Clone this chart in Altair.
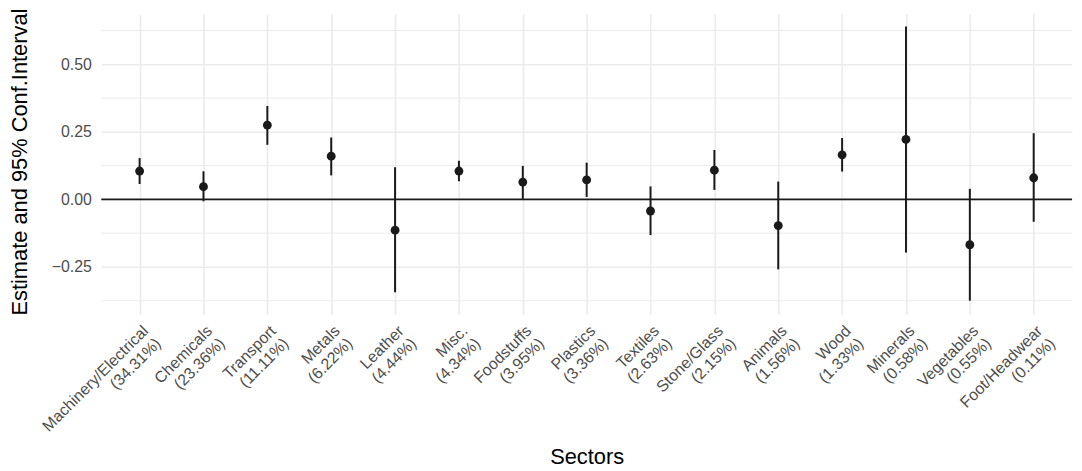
import altair as alt
import pandas as pd

sectors = ["Machinery/Electrical", "Chemicals", "Transport", "Metals", "Leather",
           "Misc.", "Foodstuffs", "Plastics", "Textiles", "Stone/Glass",
           "Animals", "Wood", "Minerals", "Vegetables", "Foot/Headwear"]
shares = ["34.31%", "23.36%", "11.11%", "6.22%", "4.44%", "4.34%", "3.95%",
          "3.36%", "2.63%", "2.15%", "1.56%", "1.33%", "0.58%", "0.55%", "0.11%"]
estimates = [0.105, 0.047, 0.275, 0.160, -0.114, 0.105, 0.064, 0.072, -0.043,
             0.108, -0.097, 0.165, 0.222, -0.168, 0.080]
lower = [0.057, -0.007, 0.202, 0.089, -0.344, 0.067, 0.002, 0.009, -0.132,
         0.035, -0.259, 0.103, -0.197, -0.375, -0.083]
upper = [0.153, 0.104, 0.346, 0.229, 0.119, 0.143, 0.124, 0.136, 0.048,
         0.183, 0.066, 0.227, 0.640, 0.039, 0.245]
major_ticks = [-0.25, 0.0, 0.25, 0.5]
minor_ticks = [-0.375, -0.125, 0.125, 0.375, 0.625]
y_domain = [-0.426, 0.6875]

labels = [f"{s}\n({p})" for s, p in zip(sectors, shares)]
df = pd.DataFrame({"label": labels, "estimate": estimates,
                   "lower": lower, "upper": upper})

FONT = "Liberation Sans"

yscale = alt.Scale(domain=y_domain, nice=False, zero=False)
yaxis = alt.Axis(values=major_ticks, format=".2f",
                 title="Estimate and 95% Conf.Interval",
                 grid=True, gridColor="#ebebeb", gridWidth=1.6,
                 ticks=False, tickSize=0, domain=False,
                 labelFontSize=16, labelColor="#4d4d4d", labelPadding=10,
                 labelFont=FONT, titleFont=FONT, titleFontSize=22,
                 titleFontWeight="normal", titleColor="#000000",
                 titleBaseline="alphabetic", titleX=-75, titleY=149)

xaxis = alt.Axis(title="Sectors", labelAngle=-45, labelAlign="right",
                 labelBaseline="top", labelExpr="split(datum.label, '\\n')",
                 labelLineHeight=18, labelOverlap=False, labelLimit=400,
                 ticks=False, tickSize=0, domain=False,
                 grid=True, gridColor="#ebebeb", gridWidth=1.6,
                 labelFontSize=16, labelColor="#4d4d4d", labelPadding=8,
                 labelFont=FONT, titleFont=FONT, titleFontSize=22,
                 titleFontWeight="normal", titleColor="#000000",
                 titleBaseline="alphabetic", titleY=150)

xenc = alt.X("label:N", sort=labels,
             scale=alt.Scale(type="point", padding=0.6), axis=xaxis)

minor = alt.Chart(pd.DataFrame({"estimate": minor_ticks})).mark_rule(
    color="#ebebeb", strokeWidth=1.0
).encode(y=alt.Y("estimate:Q", scale=yscale, axis=yaxis))

zero = alt.Chart(pd.DataFrame({"estimate": [0.0]})).mark_rule(
    color="#1a1a1a", strokeWidth=1.8
).encode(y=alt.Y("estimate:Q", scale=yscale, axis=yaxis))

bars = alt.Chart(df).mark_rule(color="#1a1a1a", strokeWidth=2).encode(
    x=xenc,
    y=alt.Y("lower:Q", scale=yscale, axis=yaxis),
    y2="upper:Q",
)

points = alt.Chart(df).mark_circle(size=80, color="#1a1a1a", opacity=1).encode(
    x=xenc,
    y=alt.Y("estimate:Q", scale=yscale, axis=yaxis),
)

chart = alt.layer(minor, zero, bars, points).properties(
    width=978, height=303,
    autosize=alt.AutoSizeParams(type="none"),
    padding={"left": 94, "top": 4, "right": 2, "bottom": 156},
).configure_view(stroke=None)

chart.save("out.html", embed_options={"renderer": "svg", "actions": False})
